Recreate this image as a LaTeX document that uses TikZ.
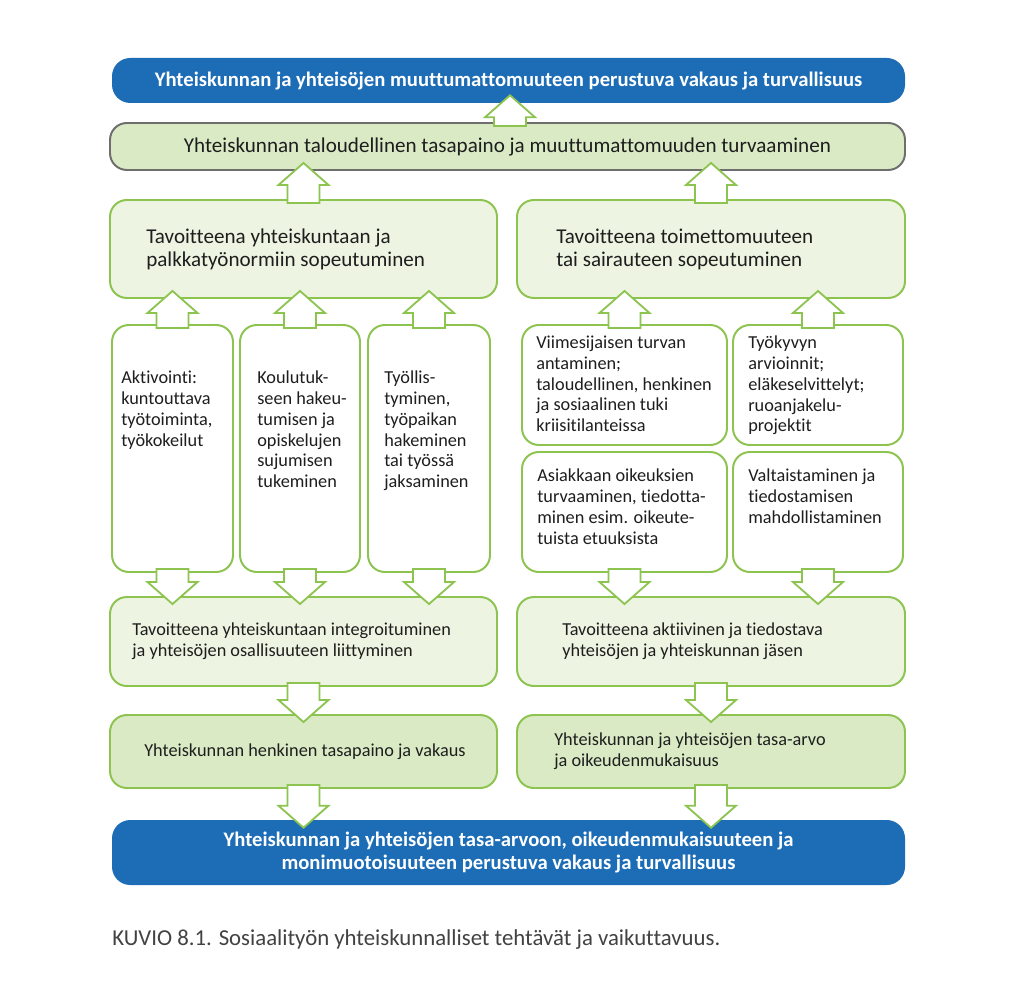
\documentclass[tikz,border=0pt]{standalone}
\usepackage{fontspec}
\setmainfont{Carlito}[Ligatures=NoCommon]
\usetikzlibrary{calc, positioning}
\definecolor{cblue}{HTML}{1D6DB6}
\definecolor{cgreen}{HTML}{8DC450}
\definecolor{clight}{HTML}{EDF5E2}
\definecolor{cmid}{HTML}{DAEAC5}
\definecolor{cgrey}{HTML}{6E6E6E}
\definecolor{ctext}{HTML}{1E1E1E}
\newdimen\pxu \pxu=0.025cm
\newcommand{\shw}{0.4cm}   % half shaft
\newcommand{\hdw}{0.625cm} % half head
\newcommand{\hdl}{0.55cm}  % head length
\newcommand{\tov}{0.2cm}   % tip overlap
\newcommand{\sov}{0.1cm}   % shaft overlap
\tikzset{
  boxsize/.style 2 args={minimum width=#1\pxu, minimum height=#2\pxu},
  gbox/.style={draw=cgreen, line width=1.4pt, rounded corners=12pt, fill=#1, inner sep=0pt},
  gbox/.default=clight,
  bbox/.style={fill=cblue, rounded corners=13pt, inner sep=0pt, text=white, align=center,
    font=\bfseries\fontsize{14.7pt}{16.4pt}\selectfont},
  bigtxt/.style={font=\fontsize{15pt}{16.4pt}\selectfont, text=ctext, align=left, inner sep=0pt},
  smalltxt/.style={font=\fontsize{13pt}{14.7pt}\selectfont, text=ctext, align=left, inner sep=0pt, anchor=north west},
  arrowbody/.style={draw=cgreen, fill=white, line width=1.3pt, line join=miter},
  uparr/.style={arrowbody, to path={
    ($(\tikztostart)+(-\shw,-\sov)$) -- ($(\tikztotarget)+(-\shw,\tov-\hdl)$)
    -- ($(\tikztotarget)+(-\hdw,\tov-\hdl)$) -- ($(\tikztotarget)+(0pt,\tov)$)
    -- ($(\tikztotarget)+(\hdw,\tov-\hdl)$) -- ($(\tikztotarget)+(\shw,\tov-\hdl)$)
    -- ($(\tikztostart)+(\shw,-\sov)$) -- cycle}},
  dnarr/.style={arrowbody, to path={
    ($(\tikztostart)+(-\shw,\sov)$) -- ($(\tikztotarget)+(-\shw,\hdl-\tov)$)
    -- ($(\tikztotarget)+(-\hdw,\hdl-\tov)$) -- ($(\tikztotarget)+(0pt,-\tov)$)
    -- ($(\tikztotarget)+(\hdw,\hdl-\tov)$) -- ($(\tikztotarget)+(\shw,\hdl-\tov)$)
    -- ($(\tikztostart)+(\shw,\sov)$) -- cycle}},
}

\begin{document}
\begin{tikzpicture}[x=0.025cm, y=-0.025cm]
  \useasboundingbox[fill=white] (0,0) rectangle (1024,1003);
  % top and bottom aims
  \node[bbox, boxsize={793}{45}] (goal) at (508.5,80.5) {Yhteiskunnan ja yhteisöjen muuttumattomuuteen perustuva vakaus ja turvallisuus};
  \node[gbox=cmid, draw=cgrey, boxsize={795}{47}, font=\fontsize{15pt}{16.4pt}\selectfont, text=ctext] (econ) at (507.5,146.5) {Yhteiskunnan taloudellinen tasapaino ja muuttumattomuuden turvaaminen};
  \node[bbox, boxsize={793}{65}] (base) at (508.5,852.5) {Yhteiskunnan ja yhteisöjen tasa-arvoon, oikeudenmukaisuuteen ja\\monimuotoisuuteen perustuva vakaus ja turvallisuus};

  % left branch
  \node[gbox, boxsize={387}{98}] (lgoal) at (303.5,249) {};
  \node[gbox=white, boxsize={121}{247}] (a1) at (172.5,448.5) {};
  \node[gbox=white, boxsize={120}{247}] (a2) at (300,448.5) {};
  \node[gbox=white, boxsize={122}{247}] (a3) at (429,448.5) {};
  \node[gbox, boxsize={387}{89}] (lint) at (303.5,641.5) {};
  \node[gbox=cmid, boxsize={387}{73}] (lbal) at (303.5,751.5) {};

  % right branch
  \node[gbox, boxsize={388}{98}] (rgoal) at (711,249) {};
  \node[gbox=white, boxsize={205}{120}] (b1) at (624.5,385) {};
  \node[gbox=white, boxsize={170}{120}] (b2) at (818,385) {};
  \node[gbox=white, boxsize={205}{120}] (b3) at (624.5,512) {};
  \node[gbox=white, boxsize={170}{120}] (b4) at (818,512) {};
  \node[gbox, boxsize={388}{89}] (rint) at (711,641.5) {};
  \node[gbox=cmid, boxsize={388}{73}] (rbal) at (711,751.5) {};

  % texts
  \node[bigtxt, anchor=west] (t-lgoal) at ($(lgoal.west)+(37,0)$) {Tavoitteena yhteiskuntaan ja\\palkkatyönormiin sopeutuminen};
  \node[bigtxt, anchor=west] (t-rgoal) at ($(rgoal.west)+(40,0)$) {Tavoitteena toimettomuuteen\\tai sairauteen sopeutuminen};
  \node[smalltxt] (t-a1) at ($(a1.north west)+(10,47)$) {Aktivointi:\\kuntouttava\\työtoiminta,\\työkokeilut};
  \node[smalltxt] (t-a2) at ($(a2.north west)+(18,47)$) {Koulutuk-\\seen hakeu-\\tumisen ja\\opiskelujen\\sujumisen\\tukeminen};
  \node[smalltxt] (t-a3) at ($(a3.north west)+(17,47)$) {Työllis-\\tyminen,\\työpaikan\\hakeminen\\tai työssä\\jaksaminen};
  \node[smalltxt] (t-b1) at ($(b1.north west)+(15,12)$) {Viimesijaisen turvan\\antaminen;\\taloudellinen, henkinen\\ja sosiaalinen tuki\\kriisitilanteissa};
  \node[smalltxt] (t-b2) at ($(b2.north west)+(16,12)$) {Työkyvyn\\arvioinnit;\\eläkeselvittelyt;\\ruoanjakelu-\\projektit};
  \node[smalltxt] (t-b3) at ($(b3.north west)+(16,18)$) {Asiakkaan oikeuksien\\turvaaminen, tiedotta-\\minen esim. oikeute-\\tuista etuuksista};
  \node[smalltxt] (t-b4) at ($(b4.north west)+(16,18)$) {Valtaistaminen ja\\tiedostamisen\\mahdollistaminen};
  \node[smalltxt, anchor=west] (t-lint) at ($(lint.west)+(23,0)$) {Tavoitteena yhteiskuntaan integroituminen\\ja yhteisöjen osallisuuteen liittyminen};
  \node[smalltxt, anchor=west] (t-rint) at ($(rint.west)+(46,0)$) {Tavoitteena aktiivinen ja tiedostava\\yhteisöjen ja yhteiskunnan jäsen};
  \node[smalltxt, anchor=west] (t-lbal) at ($(lbal.west)+(35,0)$) {Yhteiskunnan henkinen tasapaino ja vakaus};
  \node[smalltxt, anchor=west] (t-rbal) at ($(rbal.west)+(38,0)$) {Yhteiskunnan ja yhteisöjen tasa-arvo\\ja oikeudenmukaisuus};

  % block arrows
  \draw[uparr] (econ.north -| 510,0) to (goal.south -| 510,0);
  \draw[uparr] (lgoal.north) to (lgoal.north |- econ.south);
  \draw[uparr] (rgoal.north) to (rgoal.north |- econ.south);
  \foreach \b in {a1,a2,a3} {
    \draw[uparr] (\b.north) to (\b.north |- lgoal.south);
    \draw[dnarr] (\b.south) to (\b.south |- lint.north);
  }
  \draw[uparr] (b1.north) to (b1.north |- rgoal.south);
  \draw[uparr] (b2.north) to (b2.north |- rgoal.south);
  \draw[dnarr] (b3.south) to (b3.south |- rint.north);
  \draw[dnarr] (b4.south) to (b4.south |- rint.north);
  \draw[dnarr] (lint.south) to (lint.south |- lbal.north);
  \draw[dnarr] (rint.south) to (rint.south |- rbal.north);
  \draw[dnarr] (lbal.south) to (lbal.south |- base.north);
  \draw[dnarr] (rbal.south) to (rbal.south |- base.north);

  \node[anchor=west, inner sep=0pt, text=cgrey!60!black, font=\fontsize{16.2pt}{18pt}\selectfont] (caption) at (112,940) {KUVIO 8.1. Sosiaalityön yhteiskunnalliset tehtävät ja vaikuttavuus.};
\end{tikzpicture}
\end{document}
